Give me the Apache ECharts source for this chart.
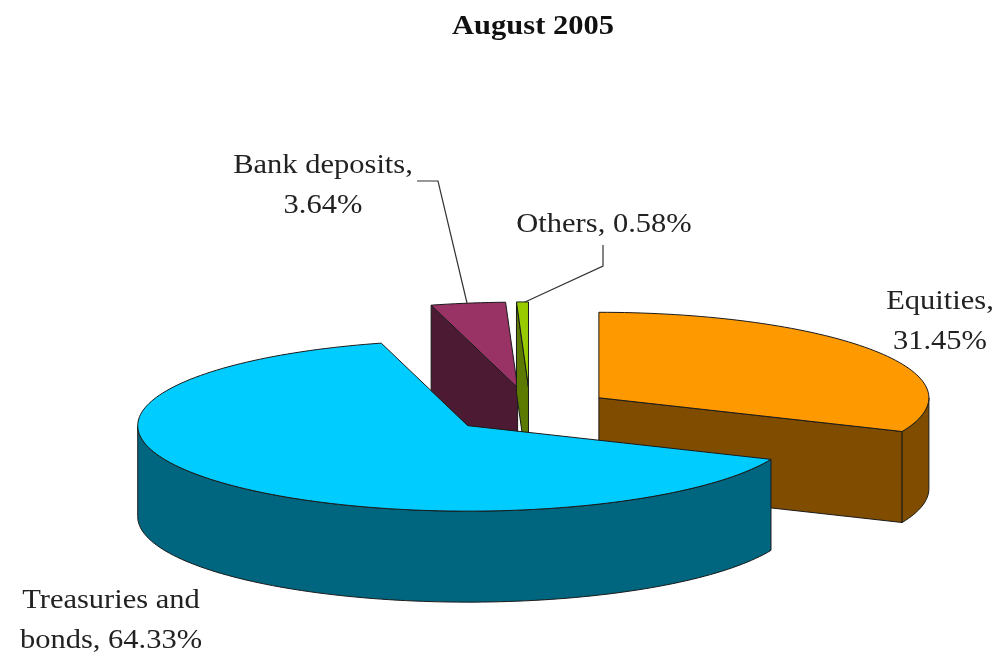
<!DOCTYPE html>
<html>
<head>
<meta charset="utf-8">
<style>html,body{margin:0;padding:0;background:#fff}#chart{width:998px;height:654px}</style>
<script src="https://cdn.jsdelivr.net/npm/echarts@6/dist/echarts.min.js"></script>
</head>
<body>
<div id="chart"></div>
<script>
// Portfolio composition, clockwise from twelve o'clock
const chartTitle = 'August 2005';
const categories = ['Equities', 'Treasuries and bonds', 'Bank deposits', 'Others'];
const shares = [31.45, 64.33, 3.64, 0.58];
const topColors = ['#ff9900', '#00ccff', '#993366', '#99cc00'];
const wallColors = ['#804d00', '#006680', '#4d1a33', '#5c7a00'];
const labelTemplates = ['Equities,\n{v}%', 'Treasuries and\nbonds, {v}%', 'Bank deposits,\n{v}%', 'Others, {v}%'];

// Tilted-disc geometry
const disc = { cx: 530, cy: 410.5, rx: 330, ry: 85.5, depth: 91, explodeX: 0.25, explodeY: 0.27 };
// Paint back slices first so the large front slice overlaps them
const paintOrder = [2, 3, 0, 1];
const labelAnchors = [[940, 322], [111, 621], [323, 186], [604, 225]];
const leaders = [
  null,
  null,
  [[417, 181], [438, 181], [467, 303]],
  [[603, 245], [603, 266], [525, 302]]
];
// The serif type runs slightly wide in this layout
const textStretch = 1.13;

const rad = Math.PI / 180;
const total = shares.reduce((a, b) => a + b, 0);
let running = -90;
const sweeps = shares.map(s => {
  const from = running;
  running += s / total * 360;
  return [from, running];
});

function rim(c, t, drop) {
  return [c[0] + disc.rx * Math.cos(t * rad), c[1] + disc.ry * Math.sin(t * rad) + (drop || 0)];
}

function arc(c, a, b, drop) {
  const pts = [];
  const n = Math.max(2, Math.ceil(Math.abs(b - a) / 1.5));
  for (let i = 0; i <= n; i++) pts.push(rim(c, a + (b - a) * i / n, drop));
  return pts;
}

function face(points, fill) {
  return {
    type: 'polygon',
    shape: { points },
    style: { fill, stroke: '#1a1a1a', lineWidth: 1, lineJoin: 'round' }
  };
}

function radialWall(c, t, fill) {
  const e = rim(c, t);
  return face([c, e, [e[0], e[1] + disc.depth], [c[0], c[1] + disc.depth]], fill);
}

function renderSlice(params, api) {
  const i = api.value(0);
  const [a, b] = sweeps[i];
  const mid = (a + b) / 2;
  const c = [
    disc.cx + disc.explodeX * disc.rx * Math.cos(mid * rad),
    disc.cy + disc.explodeY * disc.ry * Math.sin(mid * rad)
  ];
  const children = [];

  // Cut faces are visible only when they turn towards the viewer
  if (-Math.cos(a * rad) > 0) children.push(radialWall(c, a, wallColors[i]));
  if (Math.cos(b * rad) > 0) children.push(radialWall(c, b, wallColors[i]));

  // Curved outer wall, front half of the disc only
  [0, 360].forEach(turn => {
    const lo = Math.max(a, turn);
    const hi = Math.min(b, turn + 180);
    if (hi > lo) {
      const upper = arc(c, lo, hi, 0);
      const lower = arc(c, hi, lo, disc.depth);
      children.push(face(upper.concat(lower), wallColors[i]));
    }
  });

  children.push(face([c].concat(arc(c, a, b, 0)), topColors[i]));

  if (leaders[i]) {
    children.push({
      type: 'polyline',
      shape: { points: leaders[i] },
      style: { fill: 'none', stroke: '#333', lineWidth: 1.2 }
    });
  }
  children.push({
    type: 'text',
    x: labelAnchors[i][0],
    y: labelAnchors[i][1],
    scaleX: textStretch,
    style: {
      text: labelTemplates[i].replace('{v}', shares[i].toFixed(2)),
      fill: '#222',
      font: '27px "Liberation Serif", serif',
      lineHeight: 40,
      align: 'center',
      verticalAlign: 'middle'
    }
  });
  return { type: 'group', children };
}

const chart = echarts.init(document.getElementById('chart'));
chart.setOption({
  animation: false,
  backgroundColor: '#fff',
  graphic: [{
    type: 'text',
    x: 533,
    y: 27,
    scaleX: textStretch,
    style: {
      text: chartTitle,
      fill: '#111',
      font: 'bold 27px "Liberation Serif", serif',
      align: 'center',
      verticalAlign: 'middle'
    }
  }],
  series: [{
    type: 'custom',
    coordinateSystem: 'none',
    silent: true,
    renderItem: renderSlice,
    data: paintOrder.map(i => ({ name: categories[i], value: [i, shares[i]] }))
  }]
});
</script>
</body>
</html>
